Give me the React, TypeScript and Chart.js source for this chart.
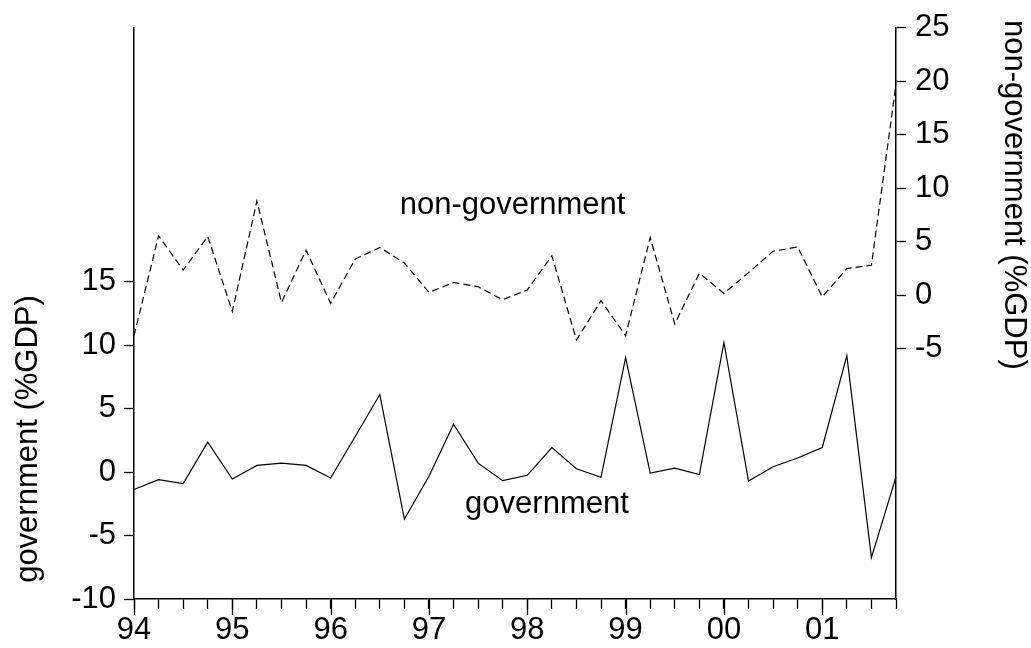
import React, { useEffect, useRef } from "react";
import { Chart, registerables } from "chart.js";

Chart.register(...registerables);

const FONT = "'Liberation Sans', Arial, Helvetica, sans-serif";

const quarters = [
  "94Q1", "94Q2", "94Q3", "94Q4", "95Q1", "95Q2", "95Q3", "95Q4",
  "96Q1", "96Q2", "96Q3", "96Q4", "97Q1", "97Q2", "97Q3", "97Q4",
  "98Q1", "98Q2", "98Q3", "98Q4", "99Q1", "99Q2", "99Q3", "99Q4",
  "00Q1", "00Q2", "00Q3", "00Q4", "01Q1", "01Q2", "01Q3", "01Q4",
];
const yearLabels = ["94", "95", "96", "97", "98", "99", "00", "01"];

const government = [
  -1.38, -0.6, -0.91, 2.35, -0.55, 0.52, 0.7, 0.52,
  -0.47, 2.8, 6.1, -3.7, -0.34, 3.76, 0.7, -0.68,
  -0.26, 1.93, 0.26, -0.41, 9.0, -0.08, 0.31, -0.2,
  10.2, -0.71, 0.42, 1.1, 1.93, 9.17, -6.74, -0.38,
];
const nonGovernment = [
  -3.79, 5.54, 2.34, 5.48, -1.52, 8.8, -0.68, 4.2,
  -0.77, 3.37, 4.45, 3.0, 0.25, 1.18, 0.78, -0.43,
  0.48, 3.68, -4.19, -0.52, -3.79, 5.38, -2.7, 2.05,
  0.16, 2.1, 4.1, 4.5, -0.16, 2.48, 2.8, 19.7,
];

const leftTicks = [-10, -5, 0, 5, 10, 15];
const rightTicks = [-5, 0, 5, 10, 15, 20, 25];

const leftTitle = "government (%GDP)";
const rightTitle = "non-government (%GDP)";
const govLabel = "government";
const nonGovLabel = "non-government";

const decorPlugin = {
  id: "decor",
  afterDraw(chart: any) {
    const { ctx, chartArea } = chart;
    const x = chart.scales.x;
    const y = chart.scales.y;
    const y2 = chart.scales.y2;
    ctx.save();
    // major (yearly) tick marks, longer than quarterly ones
    ctx.strokeStyle = "#000";
    ctx.lineWidth = 1.3;
    quarters.forEach((_q, i) => {
      if (i % 4 === 0) {
        const px = Math.round(x.getPixelForValue(i)) + 0.5;
        ctx.beginPath();
        ctx.moveTo(px, chartArea.bottom);
        ctx.lineTo(px, chartArea.bottom + 16);
        ctx.stroke();
      }
    });
    ctx.fillStyle = "#000";
    ctx.font = `31px ${FONT}`;
    ctx.textAlign = "center";
    ctx.textBaseline = "alphabetic";
    ctx.fillText(nonGovLabel, x.getPixelForValue(15.4), y2.getPixelForValue(7.6));
    ctx.fillText(govLabel, x.getPixelForValue(16.8), y.getPixelForValue(-3.25));

    // axis titles
    ctx.textBaseline = "middle";
    ctx.save();
    ctx.translate(chartArea.left - 105.5, y.getPixelForValue(2.6));
    ctx.rotate(-Math.PI / 2);
    ctx.fillText(leftTitle, 0, 0);
    ctx.restore();
    ctx.save();
    ctx.translate(chartArea.right + 118, y2.getPixelForValue(9.37));
    ctx.rotate(Math.PI / 2);
    ctx.fillText(rightTitle, 0, 0);
    ctx.restore();
    ctx.restore();
  },
};

export default function App() {
  const canvasRef = useRef<HTMLCanvasElement | null>(null);

  useEffect(() => {
    document.body.style.margin = "0";
    const canvas = canvasRef.current;
    if (!canvas) return;
    Chart.defaults.color = "#000";
    const chart = new Chart(canvas, {
      type: "line",
      data: {
        labels: quarters,
        datasets: [
          {
            label: govLabel,
            data: government,
            yAxisID: "y",
            borderColor: "#000",
            borderWidth: 1.2,
            pointRadius: 0,
            tension: 0,
            fill: false,
          },
          {
            label: nonGovLabel,
            data: nonGovernment,
            yAxisID: "y2",
            borderColor: "#000",
            borderWidth: 1.2,
            borderDash: [7, 4],
            pointRadius: 0,
            tension: 0,
            fill: false,
          },
        ],
      },
      options: {
        animation: false,
        responsive: true,
        maintainAspectRatio: false,
        layout: { padding: { top: 26, left: 0, right: 0, bottom: 0 } },
        plugins: {
          legend: { display: false },
          tooltip: { enabled: false },
          title: { display: false },
        },
        scales: {
          x: {
            type: "category",
            offset: false,
            grid: {
              drawOnChartArea: false,
              drawTicks: true,
              tickLength: 10,
              tickColor: "#000",
              tickWidth: 1.3,
            },
            border: { display: true, color: "#000", width: 1.5 },
            ticks: {
              autoSkip: false,
              maxRotation: 0,
              minRotation: 0,
              padding: 3,
              color: "#000",
              font: { family: FONT, size: 31 },
              callback: (_v: any, idx: number) => (idx % 4 === 0 ? yearLabels[idx / 4] : ""),
            },
            afterFit: (scale: any) => {
              scale.height = 49;
            },
          },
          y: {
            type: "linear",
            position: "left",
            min: -10,
            max: 35,
            afterBuildTicks: (scale: any) => {
              scale.ticks = leftTicks.map((v) => ({ value: v }));
            },
            grid: {
              drawOnChartArea: false,
              drawTicks: true,
              tickLength: 10,
              tickColor: "#000",
              tickWidth: 1.3,
            },
            border: { display: true, color: "#000", width: 1.5 },
            ticks: {
              padding: 8,
              color: "#000",
              font: { family: FONT, size: 31 },
              callback: (v: any) => String(v),
            },
            afterFit: (scale: any) => {
              scale.width = 134;
            },
          },
          y2: {
            type: "linear",
            position: "right",
            min: -28.4,
            max: 25,
            afterBuildTicks: (scale: any) => {
              scale.ticks = rightTicks.map((v) => ({ value: v }));
            },
            grid: {
              drawOnChartArea: false,
              drawTicks: true,
              tickLength: 10,
              tickColor: "#000",
              tickWidth: 1.3,
            },
            border: { display: true, color: "#000", width: 1.5 },
            ticks: {
              padding: 9,
              color: "#000",
              font: { family: FONT, size: 31 },
              callback: (v: any) => String(v),
            },
            afterFit: (scale: any) => {
              scale.width = 135;
            },
          },
        },
      },
      plugins: [decorPlugin],
    });
    return () => {
      chart.destroy();
    };
  }, []);

  return (
    <div style={{ position: "relative", width: 1031, height: 648 }}>
      <canvas ref={canvasRef} />
    </div>
  );
}
